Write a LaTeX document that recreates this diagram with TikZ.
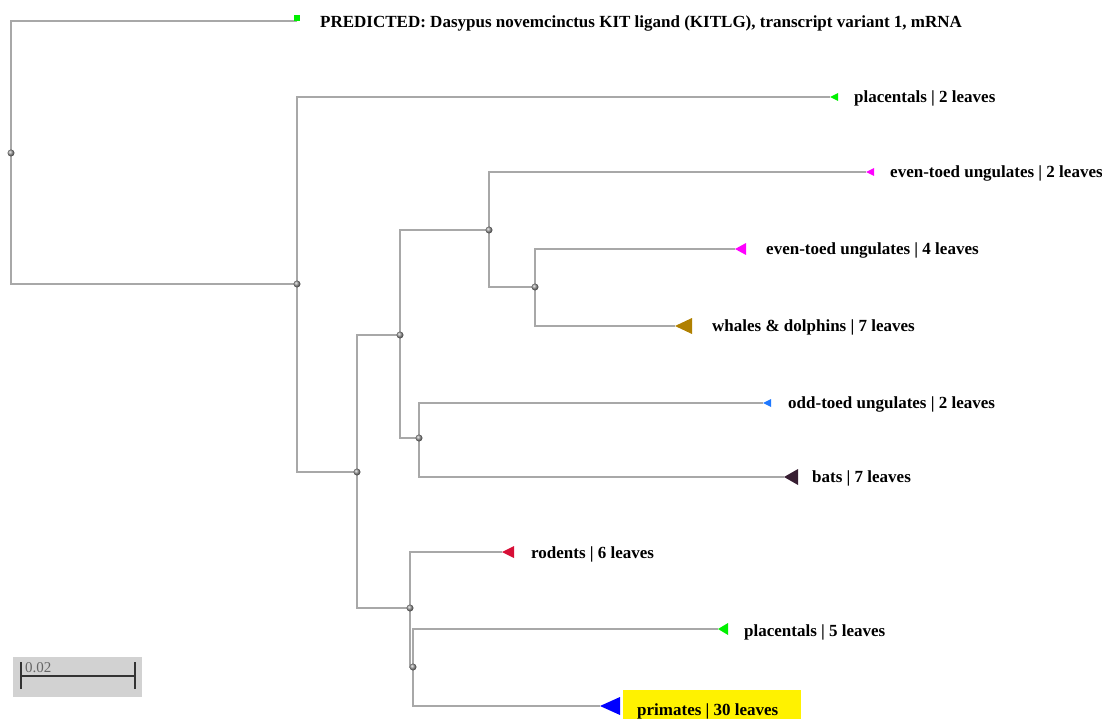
\documentclass[tikz,border=0pt]{standalone}
\usepackage{fontspec}
\setmainfont{Liberation Serif}
\usetikzlibrary{positioning}
\definecolor{branchgray}{RGB}{168,168,168}
\definecolor{leafgreen}{RGB}{0,240,0}
\definecolor{leafmagenta}{RGB}{255,0,255}
\definecolor{leafgold}{RGB}{176,128,0}
\definecolor{leafsky}{RGB}{30,120,255}
\definecolor{leafdark}{RGB}{55,30,50}
\definecolor{leafred}{RGB}{215,15,55}
\definecolor{leafblue}{RGB}{0,0,255}
\definecolor{barbg}{RGB}{210,210,210}
\tikzset{
  branch/.style={draw=branchgray, line width=1.2pt},
  leaflabel/.style={anchor=west, inner sep=0pt, font=\bfseries\fontsize{17}{19}\selectfont},
  joint/.style={ball color=gray!80},
}
\begin{document}
\begin{tikzpicture}[x=1pt, y=-1pt]
    \useasboundingbox (0,0) rectangle (1102,719);
    % inner nodes
    \coordinate (root) at (11,153);
    \coordinate (nA) at (297,284);
    \coordinate (nB) at (357,472);
    \coordinate (nC) at (400,335);
    \coordinate (nD) at (489,230);
    \coordinate (nE) at (535,287);
    \coordinate (nF) at (419,438);
    \coordinate (nG) at (410,608);
    \coordinate (nH) at (413,667);
    % leaves
    \coordinate (kitlg) at (297,21);
    \coordinate (plac2) at (830,97);
    \coordinate (even2) at (866,172);
    \coordinate (even4) at (735,249);
    \coordinate (whales) at (675,326);
    \coordinate (odd) at (763,403);
    \coordinate (bats) at (784,477);
    \coordinate (rodents) at (502,552);
    \coordinate (plac5) at (718,629);
    \coordinate (primates) at (600,706);
    % yellow mark behind primates
    \fill[yellow] (623,690) rectangle (801,719);
    % branches
    \draw[branch]
        (root) |- (kitlg) (root) |- (nA)
        (nA) |- (plac2) (nA) |- (nB)
        (nB) |- (nC) (nB) |- (nG)
        (nC) |- (nD) (nC) |- (nF)
        (nD) |- (even2) (nD) |- (nE)
        (nE) |- (even4) (nE) |- (whales)
        (nF) |- (odd) (nF) |- (bats)
        (nG) |- (rodents) (nG) |- (nH)
        (nH) |- (plac5) (nH) |- (primates);
    \foreach \n in {root,nA,nB,nC,nD,nE,nF,nG,nH}
        \shade[joint] (\n) circle (3.5);
    % collapsed groups
    \fill[leafgreen] ([xshift=-3pt]kitlg) rectangle ++(6,-6);
    \fill[leafgreen] (plac2) -- ++(8,-4) -- ++(0,8) -- cycle;
    \fill[leafmagenta] (even2) -- ++(8,-4) -- ++(0,8) -- cycle;
    \fill[leafmagenta] (even4) -- ++(11,-6) -- ++(0,12) -- cycle;
    \fill[leafgold] (whales) -- ++(17,-8) -- ++(0,16) -- cycle;
    \fill[leafsky] (odd) -- ++(8,-4) -- ++(0,8) -- cycle;
    \fill[leafdark] (bats) -- ++(14,-8) -- ++(0,16) -- cycle;
    \fill[leafred] (rodents) -- ++(12,-6) -- ++(0,12) -- cycle;
    \fill[leafgreen] (plac5) -- ++(10,-6) -- ++(0,12) -- cycle;
    \fill[leafblue] (primates) -- ++(20,-9) -- ++(0,18) -- cycle;
    % labels
    \node[leaflabel] (tkitlg) at (320,23) {PREDICTED: Dasypus novemcinctus KIT ligand (KITLG), transcript variant 1, mRNA};
    \node[leaflabel] (tplac2) at (854,98) {placentals | 2 leaves};
    \node[leaflabel] (teven2) at (890,173) {even-toed ungulates | 2 leaves};
    \node[leaflabel] (teven4) at (766,250) {even-toed ungulates | 4 leaves};
    \node[leaflabel] (twhales) at (712,327) {whales \& dolphins | 7 leaves};
    \node[leaflabel] (todd) at (788,404) {odd-toed ungulates | 2 leaves};
    \node[leaflabel] (tbats) at (812,478) {bats | 7 leaves};
    \node[leaflabel] (trodents) at (531,554) {rodents | 6 leaves};
    \node[leaflabel] (tplac5) at (744,632) {placentals | 5 leaves};
    \node[leaflabel] (tprimates) at (637,711) {primates | 30 leaves};
    % scale bar
    \fill[barbg] (13,657) rectangle (142,697);
    \coordinate (barL) at (21,676);
    \coordinate (barR) at (135,676);
    \draw[line width=2.4pt, black!80] (barL) -- (barR)
        ([yshift=-13pt]barL) -- ([yshift=14pt]barL)
        ([yshift=-13pt]barR) -- ([yshift=14pt]barR);
    \node[anchor=south west, inner sep=0pt, text=black!60, font=\fontsize{15}{15}\selectfont]
        (scalelabel) at (25,673) {0.02};
\end{tikzpicture}
\end{document}
